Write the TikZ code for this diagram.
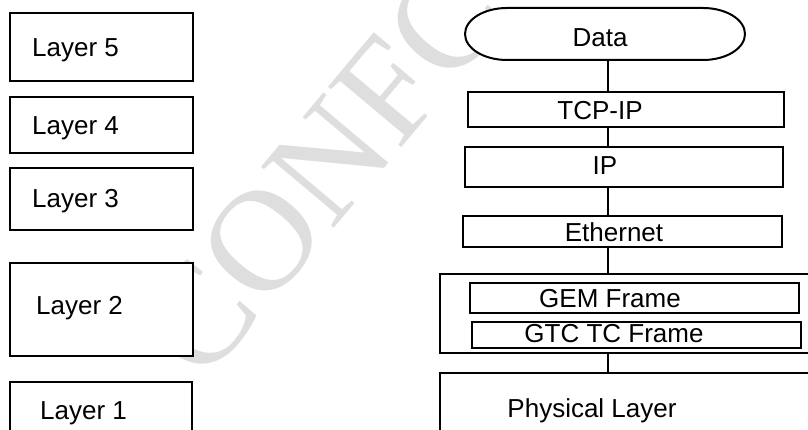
\documentclass[tikz,border=0pt]{standalone}
\usepackage{fontspec}
\setmainfont{Liberation Sans}
\newfontfamily\markfont{Liberation Serif}
\usetikzlibrary{calc}
\tikzset{
  box/.style={draw=black, line width=2pt, fill=white, inner sep=0pt},
  lbl/.style={inner sep=0pt, font=\fontsize{26}{31}\selectfont},
  wire/.style={draw=black, line width=2pt},
  stamp/.style={anchor=base west, rotate=50, text=black!13, inner sep=0pt,
    font=\markfont\fontsize{145}{145}\selectfont},
}
\begin{document}
\begin{tikzpicture}[x=1pt,y=1pt]
\clip (0,0) rectangle (808,430);
\fill[white] (0,0) rectangle (808,430);

% faint background stamp
\node[stamp] (mark) at (202,44) {CONFC};

% ---- left column: layer boxes ----
\node[box, minimum width=183, minimum height=68] (l5) at (101.5,383) {};
\node[lbl, anchor=base west] (l5t) at (32,373) {Layer 5};
\node[box, minimum width=183, minimum height=56] (l4) at (101.5,305) {};
\node[lbl, anchor=base west] (l4t) at (32,295) {Layer 4};
\node[box, minimum width=183, minimum height=62] (l3) at (101.5,231) {};
\node[lbl, anchor=base west] (l3t) at (32,222) {Layer 3};
\node[box, minimum width=183, minimum height=93] (l2) at (101.5,120.5) {};
\node[lbl, anchor=base west] (l2t) at (36,115) {Layer 2};
\node[box, minimum width=182, minimum height=68] (l1) at (101,14) {};
\node[lbl, anchor=base west] (l1t) at (40,10) {Layer 1};

% ---- right column: protocol stack ----
\coordinate (xc) at (608,0);

% Data terminator with elliptical ends
\draw[line width=2pt, fill=white] (507,422) -- (703,422)
  arc[start angle=90, end angle=-90, x radius=42, y radius=26]
  -- (507,370)
  arc[start angle=270, end angle=90, x radius=42, y radius=26] -- cycle;
\node[inner sep=0pt, minimum width=280, minimum height=52] (data) at (605,396) {};
\node[lbl, anchor=base] (datat) at (600,383) {Data};

\node[box, minimum width=316, minimum height=35] (tcp) at (626,320.5) {};
\node[lbl, anchor=base] (tcpt) at (600,310.5) {TCP-IP};

\node[box, minimum width=318, minimum height=40] (ip) at (624,263) {};
\node[lbl, anchor=base] (ipt) at (605,255) {IP};

\node[box, minimum width=319, minimum height=31] (eth) at (622.5,198.5) {};
\node[lbl, anchor=base] (etht) at (614,188.5) {Ethernet};

\node[box, minimum width=400, minimum height=79] (gtc) at (640,116.5) {};
\node[box, minimum width=329, minimum height=30] (gem) at (634.5,132) {};
\node[lbl, anchor=base] (gemt) at (610,122) {GEM Frame};
\node[box, minimum width=329, minimum height=26] (tcf) at (636.5,95) {};
\node[lbl, anchor=base] (tcft) at (614,87) {GTC TC Frame};

\node[box, minimum width=400, minimum height=77] (phy) at (640,18.5) {};
\node[lbl, anchor=base] (phyt) at (592,12) {Physical Layer};

% vertical links between the stack levels
\draw[wire] (data.south -| xc) -- (tcp.north -| xc);
\draw[wire] (tcp.south -| xc) -- (ip.north -| xc);
\draw[wire] (ip.south -| xc) -- (eth.north -| xc);
\draw[wire] (eth.south -| xc) -- (gtc.north -| xc);
\draw[wire] (gtc.south -| xc) -- (phy.north -| xc);
\end{tikzpicture}
\end{document}
